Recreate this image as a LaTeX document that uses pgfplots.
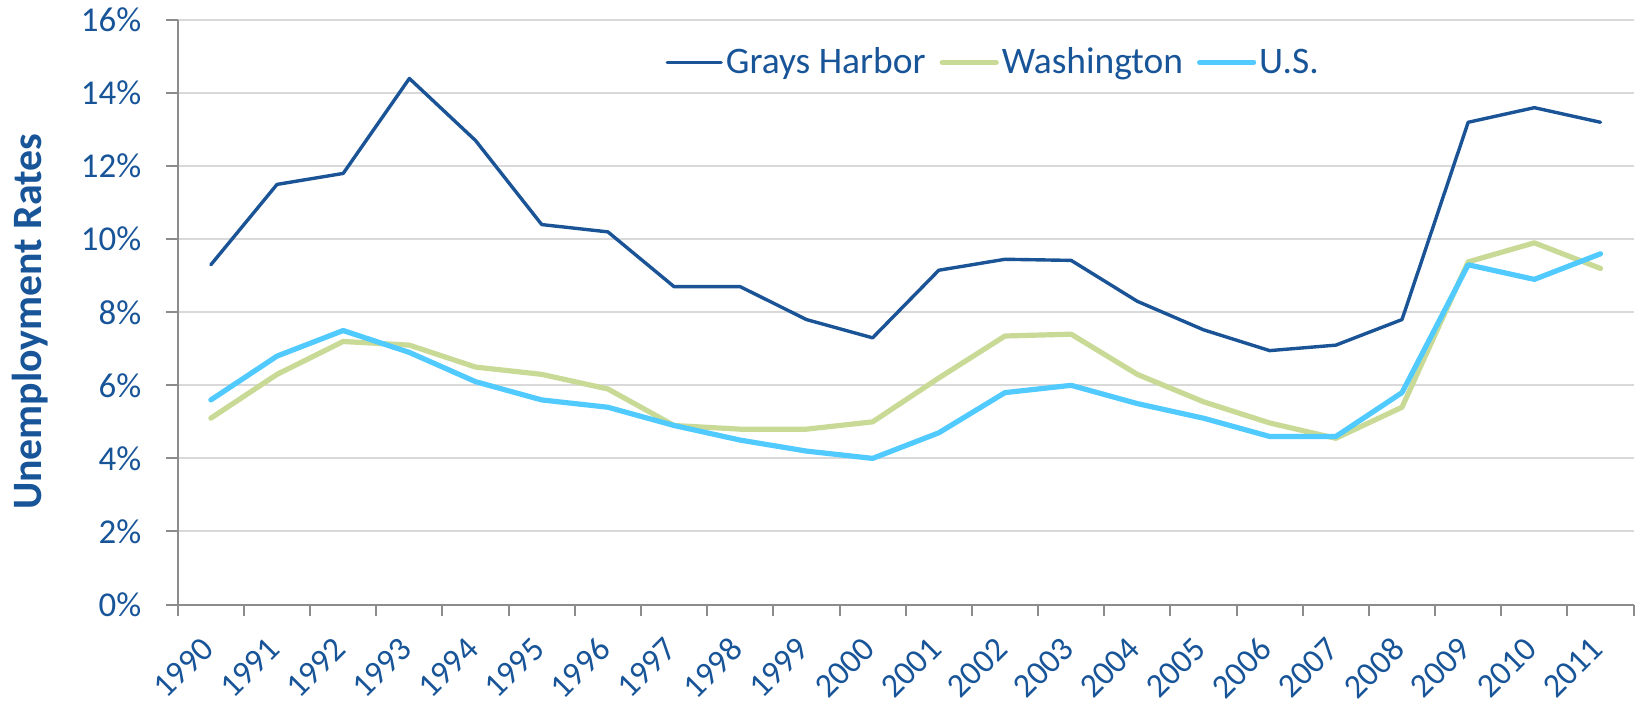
\documentclass[border=0pt]{standalone}
\usepackage{pgfplots}
\usepackage{pgfplotstable}
\pgfplotsset{compat=1.18}
\usepackage{fontspec}
\setmainfont{Carlito}
\definecolor{textblue}{RGB}{24,84,152}
\definecolor{ghblue}{RGB}{26,84,150}
\definecolor{wagreen}{RGB}{200,218,150}
\definecolor{uscyan}{RGB}{80,202,255}
\definecolor{gridgray}{RGB}{217,217,217}
\definecolor{axisgray}{RGB}{140,140,140}
\pgfplotstableread{
year GH WA US
1990 9.3 5.1 5.6
1991 11.5 6.3 6.8
1992 11.8 7.2 7.5
1993 14.4 7.1 6.9
1994 12.7 6.5 6.1
1995 10.4 6.3 5.6
1996 10.2 5.9 5.4
1997 8.7 4.9 4.9
1998 8.7 4.8 4.5
1999 7.8 4.8 4.2
2000 7.3 5.0 4.0
2001 9.15 6.2 4.7
2002 9.45 7.35 5.8
2003 9.42 7.4 6.0
2004 8.3 6.3 5.5
2005 7.52 5.55 5.1
2006 6.95 4.97 4.6
2007 7.1 4.55 4.6
2008 7.8 5.4 5.8
2009 13.2 9.38 9.3
2010 13.6 9.9 8.9
2011 13.2 9.2 9.6
}\datatable
\begin{document}
\begin{tikzpicture}
\begin{axis}[
  scale only axis, width=728bp, height=292.3bp,
  xmin=1989.5, xmax=2011.5, ymin=0, ymax=16,
  axis lines*=left,
  axis line style={draw=axisgray, line width=1bp},
  /pgf/number format/assume math mode=true,
  /pgf/number format/1000 sep={},
  xtick={1990,...,2011},
  xticklabel={\rotatebox{45}{\pgfmathprintnumber{\tick}}},
  minor xtick={1989.5,1990.5,...,2011.5},
  ytick={0,2,...,16},
  yticklabel={\pgfmathprintnumber{\tick}\%},
  ymajorgrids,
  grid style={draw=gridgray, line width=1bp},
  tick align=outside,
  major tick length=5.75bp,
  minor tick length=5.75bp,
  every tick/.style={draw=axisgray, line width=1bp},
  major x tick style={draw=none},
  minor x tick style={draw=axisgray, line width=1bp},
  yticklabel style={font=\fontsize{17.5}{20}\selectfont, text=textblue, anchor=east, inner sep=0pt, xshift=-12.35bp},
  xticklabel style={font=\fontsize{17}{20}\selectfont, text=textblue, anchor=north east, inner sep=0pt, xshift=2.5bp, yshift=-9.5bp},
  ylabel={Unemployment Rates},
  ylabel style={at={([xshift=-67.9bp,yshift=-4.75bp]rel axis cs:0,0.5)}, anchor=base, font=\fontsize{21}{24}\selectfont\bfseries, text=textblue},
  legend style={at={(0.5604,0.9275)}, anchor=center, draw=none, fill=none,
    font=\fontsize{18.8}{22}\selectfont, text=textblue,
    nodes={inner sep=1.5bp},
    /tikz/every even column/.append style={column sep=5.5bp}},
  legend columns=-1,
  legend image code/.code={\draw[#1] (0bp,0bp) -- (27bp,0bp);},
]
\coordinate (bl) at (rel axis cs:0,0);
\coordinate (tr) at (rel axis cs:1,1);
\addplot[ghblue, line width=1.7bp, line join=round, line cap=round] table[x=year, y=GH] {\datatable};
\addlegendentry{Grays Harbor}
\addplot[wagreen, line width=2.6bp, line join=round, line cap=round] table[x=year, y=WA] {\datatable};
\addlegendentry{Washington}
\addplot[uscyan, line width=2.6bp, line join=round, line cap=round] table[x=year, y=US] {\datatable};
\addlegendentry{U.S.}
\end{axis}
\pgfresetboundingbox
\path ([shift={(-88.9bp,-51.2bp)}]bl) rectangle ([shift={(3.2bp,10bp)}]tr);
\end{tikzpicture}
\end{document}
